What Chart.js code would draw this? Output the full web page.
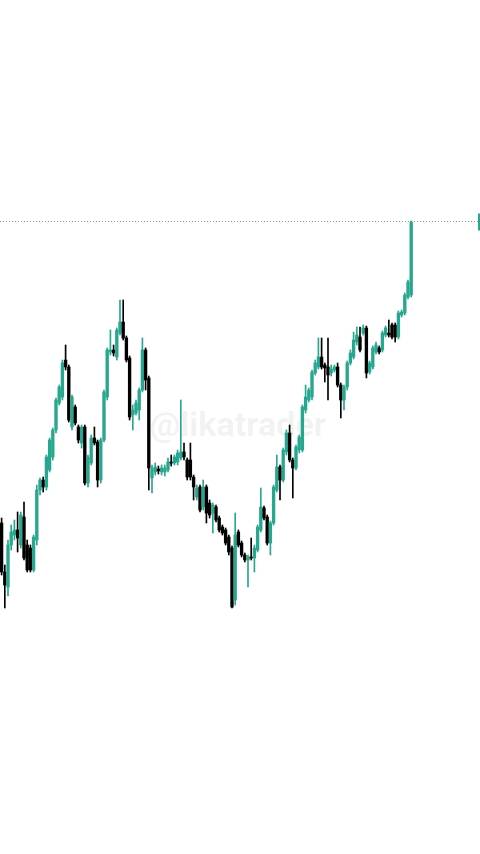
<!DOCTYPE html>
<html>
<head>
<meta charset="utf-8">
<script src="https://cdn.jsdelivr.net/npm/chart.js@4/dist/chart.umd.min.js"></script>
<style>
html,body{margin:0;padding:0;background:#ffffff;}
#wrap{position:relative;width:480px;height:854px;}
</style>
</head>
<body>
<div id="wrap"><canvas id="c" width="480" height="854"></canvas></div>
<script>
// OHLC series (price units)
const openPrices  = [331,282,267,309,319,324,309,337,309,306, 284,314,364,374,367,384,397,424,451,457, 494,487,427,447,427,411,427,371,391,416, 412,374,414,457,502,504,497,521,532,516, 496,439,441,444,464,504,476,376,382,385, 382,382,384,392,391,392,396,402,394,394, 377,357,367,347,367,351,341,347,336,327, 324,317,306,254,322,311,299,294,297,296, 304,324,346,337,311,331,364,387, 374,402,421,394,386,404,404,444, 454,457,481,487,497,489,487,481,484, 487,469,454,467,491,497,512,517,521,526, 482,487,502,506,504,519,521,529,529, 517,539,541,557,559];
const highPrices  = [336,289,314,329,334,342,342,352,314,309, 319,369,376,377,399,416,426,456,469,494, 509,489,459,449,429,429,429,399,419,427, 414,416,464,506,524,509,526,554,554,518, 498,449,454,466,516,506,478,389,391,388, 389,389,396,399,399,404,454,411,396,411, 379,369,369,374,369,354,351,349,338,329, 326,319,308,341,324,313,301,299,316,309, 329,366,348,339,333,369,399,389, 406,424,429,396,409,419,449,469, 466,484,494,516,516,491,516,489,489, 491,471,469,493,504,522,527,527,529,528, 493,508,512,508,523,528,534,531,531, 543,544,561,574,633];
const lowPrices   = [279,246,258,304,314,302,306,294,282,282, 282,309,359,362,364,382,394,421,449,454, 484,432,424,429,411,406,369,367,389,409, 367,371,412,454,499,498,494,519,514,492, 434,424,439,434,462,464,364,361,379,380, 379,378,382,388,389,389,394,394,374,374, 354,354,342,344,331,336,321,332,322,319, 309,299,246,249,307,297,292,267,294,282, 302,322,334,309,299,329,362,354, 372,399,392,356,384,401,402,441, 452,454,479,485,485,472,454,478,482, 467,436,444,464,489,495,509,502,519,476, 480,485,500,500,502,517,517,515,512, 515,537,539,555,557];
const closePrices = [282,269,309,322,324,316,339,296,284,284, 317,364,374,367,397,414,424,454,467,491, 487,434,457,431,414,427,371,397,416,411, 374,414,462,504,504,501,524,532,516,494, 437,444,451,464,504,474,386,386,387,383, 386,386,392,391,397,401,402,397,377,377, 367,366,344,367,341,339,349,334,324,321, 311,302,247,319,309,299,294,297,296,306, 327,347,336,311,331,367,387,374, 404,421,394,386,407,417,447,457, 464,482,491,497,487,486,479,485,487, 469,454,467,491,501,514,519,504,526,481, 491,506,509,502,521,526,519,517,517, 541,542,559,572,632];
const watermarkText = "@likatrader";
const totalSlots = 150;

const GREEN = "#27a78f";
const BLACK = "#000000";
const slotLabels = [];
for (let i = 0; i < totalSlots; i++) slotLabels.push(String(i + 1));
const bodies = openPrices.map((o, i) => [o, closePrices[i]]);
const wicks = lowPrices.map((l, i) => [l, highPrices[i]]);
const candleColors = openPrices.map((o, i) => closePrices[i] >= o ? GREEN : BLACK);
const lastHigh = highPrices[highPrices.length - 1];

const overlay = {
  id: 'overlay',
  beforeDatasetsDraw(chart) {
    const ctx = chart.ctx, a = chart.chartArea;
    ctx.save();
    ctx.font = "bold 34px Roboto";
    ctx.fillStyle = "rgba(0,0,0,0.05)";
    ctx.textAlign = "center";
    ctx.textBaseline = "middle";
    ctx.fillText(watermarkText, 238, chart.scales.y.getPixelForValue(427));
    // dotted last-price line
    const y = Math.round(chart.scales.y.getPixelForValue(lastHigh)) + 0.5;
    ctx.strokeStyle = "#7aa9a0";
    ctx.lineWidth = 1;
    ctx.setLineDash([1, 2]);
    ctx.beginPath();
    ctx.moveTo(a.left, y);
    ctx.lineTo(a.right, y);
    ctx.stroke();
    ctx.setLineDash([]);
    // price tag at right edge
    ctx.fillStyle = GREEN;
    ctx.fillRect(a.right - 2, y - 8, 2, 17);
    ctx.restore();
  }
};

new Chart(document.getElementById('c'), {
  type: 'bar',
  data: {
    labels: slotLabels,
    datasets: [
      { data: wicks, backgroundColor: candleColors, barThickness: 1, grouped: false, borderWidth: 0, order: 2 },
      { data: bodies, backgroundColor: candleColors, barThickness: 2.7, grouped: false, borderWidth: 0, minBarLength: 1, order: 1 }
    ]
  },
  options: {
    responsive: false,
    animation: false,
    maintainAspectRatio: false,
    layout: { padding: 0 },
    plugins: { legend: { display: false }, tooltip: { enabled: false } },
    scales: {
      x: { display: false, offset: true, grid: { display: false } },
      y: { display: false, min: 0, max: 854, grid: { display: false } }
    }
  },
  plugins: [overlay]
});
</script>
</body>
</html>
